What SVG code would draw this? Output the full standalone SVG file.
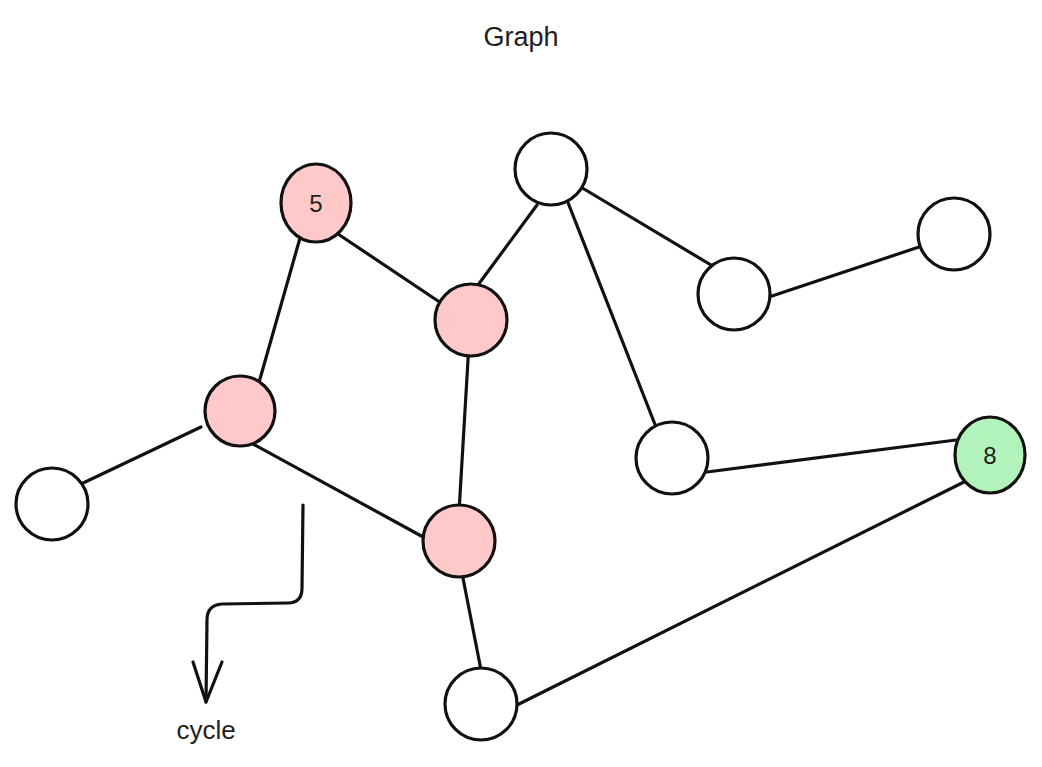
<svg xmlns="http://www.w3.org/2000/svg" width="1042" height="767" viewBox="0 0 1042 767">
<style>
.n{stroke:#111;stroke-width:3.2;fill:#fff}
.p{fill:#ffc9c9}
.g{fill:#b2f2bb}
.e{stroke:#111;stroke-width:3.2;fill:none;stroke-linecap:round;stroke-linejoin:round}
.t{font-family:"Liberation Sans",Arial,sans-serif;fill:#1e1e1e;text-anchor:middle}
</style>
<rect width="1042" height="767" fill="#fff"/>
<text class="t" x="521" y="46" font-size="27">Graph</text>
<g id="edges">
<line class="e" x1="302" y1="231" x2="256" y2="393"/>
<line class="e" x1="335" y1="232" x2="441" y2="303" stroke-width="4"/>
<line class="e" x1="478" y1="285" x2="537" y2="205"/>
<line class="e" x1="469" y1="343" x2="459" y2="512"/>
<line class="e" x1="201" y1="427" x2="81" y2="484"/>
<line class="e" x1="253" y1="444" x2="425" y2="538"/>
<line class="e" x1="569" y1="180" x2="716" y2="268"/>
<line class="e" x1="565" y1="195" x2="656" y2="427"/>
<line class="e" x1="763" y1="299" x2="919" y2="247"/>
<line class="e" x1="707" y1="472" x2="956" y2="440" stroke-width="4"/>
<line class="e" x1="970" y1="479" x2="513" y2="707" stroke-width="3.6"/>
<line class="e" x1="461" y1="568" x2="481" y2="670" stroke-width="4"/>
<path class="e" d="M303 505 L302 588 Q302 603 288 603 L222 604 Q207 605 207 620 L206 702"/>
<path class="e" d="M193 662 L206 702 L222 662"/>
</g>
<g id="node-5"><ellipse class="n p" cx="316" cy="203" rx="35" ry="39"/><text class="t" x="316" y="212" font-size="24">5</text></g>
<g id="node-b"><circle class="n p" cx="471" cy="320" r="36"/></g>
<g id="node-c"><circle class="n p" cx="240" cy="411" r="35"/></g>
<g id="node-d"><circle class="n p" cx="459" cy="541" r="36"/></g>
<g id="node-e"><circle class="n" cx="52" cy="504" r="36"/></g>
<g id="node-f"><circle class="n" cx="551" cy="169" r="36"/></g>
<g id="node-g"><circle class="n" cx="734" cy="294" r="36"/></g>
<g id="node-h"><circle class="n" cx="954" cy="234" r="36"/></g>
<g id="node-i"><circle class="n" cx="672" cy="458" r="36"/></g>
<g id="node-8"><ellipse class="n g" cx="990" cy="455" rx="35" ry="38"/><text class="t" x="990" y="464" font-size="24">8</text></g>
<g id="node-k"><circle class="n" cx="481" cy="704" r="36"/></g>
<text class="t" x="206" y="739" font-size="26">cycle</text>
</svg>
